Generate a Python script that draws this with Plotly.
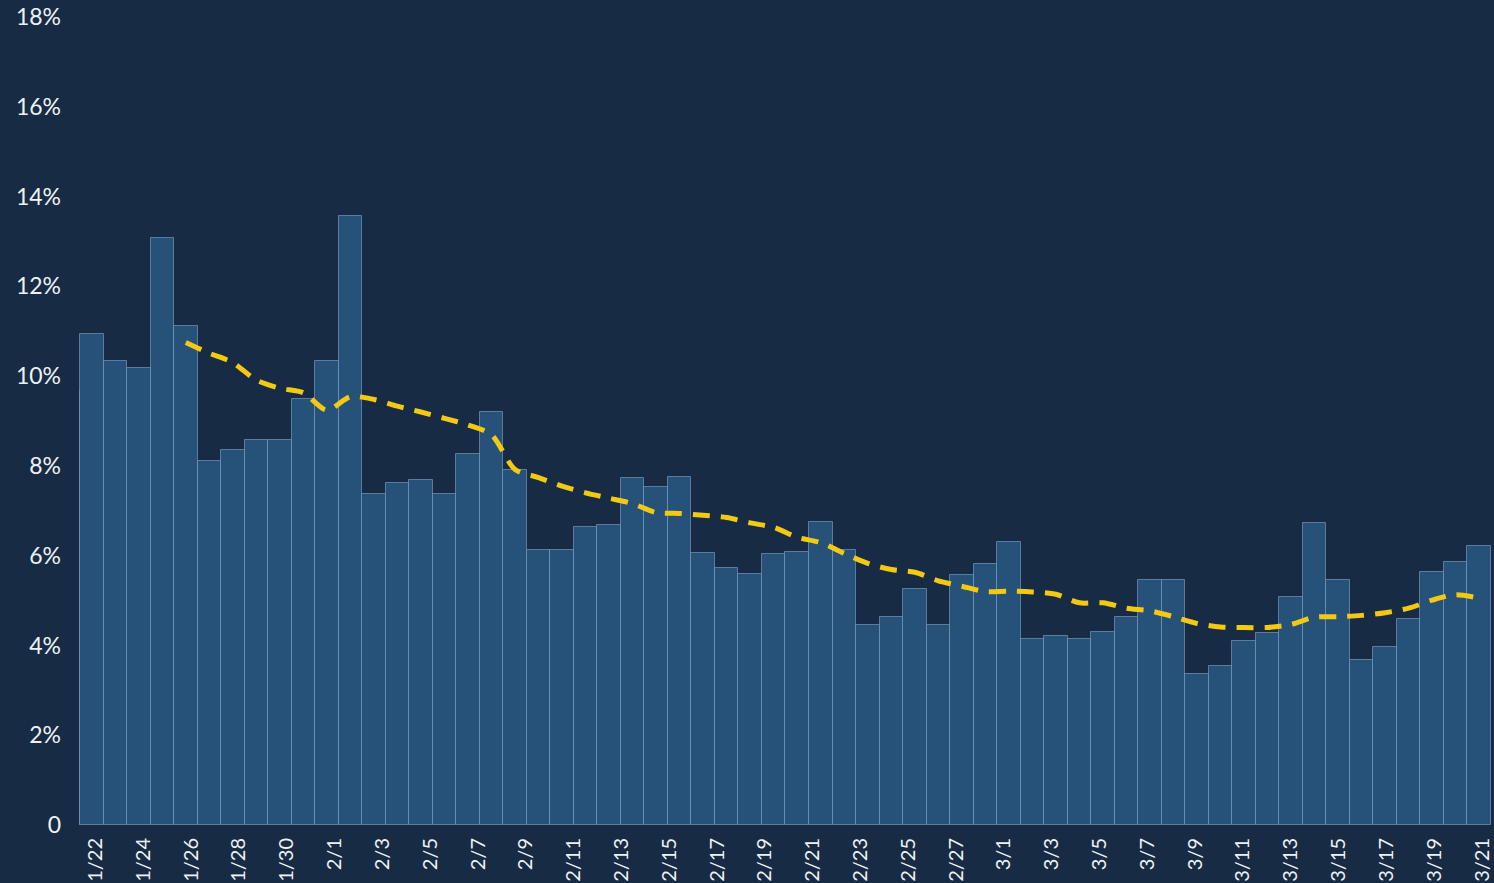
import pandas as pd
import plotly.graph_objects as go

# ---- data ----
dates = [d.strftime("%Y-%m-%d") for d in pd.date_range("2021-01-20", "2021-03-21", freq="D")]

daily_rate = [
    9.7,                                           # 1/20 (clipped at the left edge)
    10.94, 10.34, 10.18, 13.07, 11.12, 8.11, 8.35, 8.57, 8.57, 9.48,
    10.34, 13.56, 7.37, 7.63, 7.68, 7.37, 8.26, 9.21, 7.91, 6.13,
    6.13, 6.64, 6.68, 7.72, 7.53, 7.76, 6.05, 5.72, 5.59, 6.04,
    6.09, 6.76, 6.13, 4.45, 4.63, 5.26, 4.45, 5.58, 5.81, 6.31,
    4.14, 4.22, 4.14, 4.31, 4.64, 5.45, 5.45, 3.37, 3.55, 4.09,
    4.27, 5.09, 6.72, 5.45, 3.68, 3.96, 4.59, 5.63, 5.86, 6.21,
]

avg_dates = dates[5:]
avg_rate = [
    10.75, 10.51, 10.30, 9.91, 9.73, 9.63, 9.24, 9.54, 9.48, 9.33,
    9.20, 9.06, 8.91, 8.69, 7.92, 7.74, 7.55, 7.40, 7.28, 7.16,
    6.96, 6.94, 6.90, 6.85, 6.73, 6.63, 6.41, 6.29, 6.05, 5.83,
    5.69, 5.63, 5.44, 5.32, 5.20, 5.21, 5.19, 5.14, 4.95, 4.95,
    4.83, 4.77, 4.64, 4.49, 4.41, 4.40, 4.40, 4.47, 4.63, 4.64,
    4.67, 4.73, 4.83, 5.01, 5.13, 5.05,
]

y_ticks = [0, 2, 4, 6, 8, 10, 12, 14, 16, 18]
y_ticktext = ["0"] + [f"{v}%" for v in y_ticks[1:]]

BG = "#172b44"
FONT = "Lato, 'Open Sans', sans-serif"

fig = go.Figure()

fig.add_trace(go.Bar(
    x=dates, y=daily_rate,
    marker=dict(color="#26527a", line=dict(color="rgba(135,165,195,0.6)", width=1)),
    hoverinfo="x+y", showlegend=False,
))

fig.add_trace(go.Scatter(
    x=avg_dates, y=avg_rate, mode="lines",
    line=dict(color="#f4c914", width=5, dash="17px,11px", shape="spline", smoothing=0.8),
    showlegend=False,
))

# helper (invisible) trace so the date tick axis is drawn
fig.add_trace(go.Scatter(
    x=["2021-01-22", "2021-03-21"], y=[0, 0], xaxis="x2", mode="lines",
    line=dict(width=0), opacity=0, hoverinfo="skip", showlegend=False,
))

fig.update_layout(
    width=1494, height=883,
    margin=dict(l=79, r=0, t=17, b=58),
    paper_bgcolor=BG, plot_bgcolor=BG,
    bargap=0,
    font=dict(family=FONT, color="#eef2f6"),
    xaxis=dict(
        type="category", range=[0.4575, 60.628],
        showticklabels=False, showgrid=False, zeroline=False, showline=False, ticks="",
    ),
    xaxis2=dict(
        type="date", overlaying="x", side="bottom",
        range=["2021-01-21 07:25", "2021-03-21 12:00"],
        tick0="2021-01-22", dtick=2 * 86400000, tickformat="%-m/%-d",
        tickangle=-90, tickfont=dict(size=20, family=FONT, color="#eef2f6"),
        showgrid=False, zeroline=False, showline=False, ticks="",
        ticklabelstandoff=8,
    ),
    yaxis=dict(
        range=[0, 18], tickvals=y_ticks, ticktext=y_ticktext,
        tickfont=dict(size=23, family=FONT, color="#eef2f6"),
        showgrid=False, zeroline=False, showline=False, ticks="",
        ticklabelstandoff=17,
    ),
)

fig.write_html(
    "out.html",
    config={"displayModeBar": False},
    post_script="document.body.style.margin='0';document.body.style.overflow='hidden';",
)
